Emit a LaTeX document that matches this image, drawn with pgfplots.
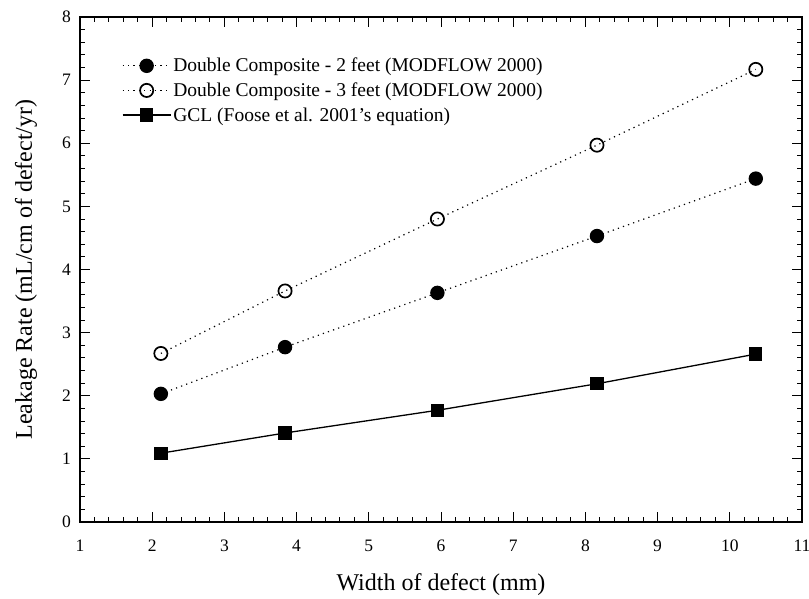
\documentclass[border=0pt]{standalone}
\usepackage{pgfplots}
\pgfplotsset{compat=1.18}
\usepackage{fontspec}
\setmainfont{Liberation Serif}
\begin{document}
\begin{tikzpicture}
\useasboundingbox (-80pt,-76pt) rectangle (729pt,522pt);
\begin{axis}[
  at={(0pt,0pt)}, anchor=south west,
  width=722pt, height=505pt, scale only axis,
  xmin=1, xmax=11, ymin=0, ymax=8,
  xtick={1,2,...,11}, ytick={0,1,...,8},
  minor tick num=4,
  tick align=inside,
  major tick length=10pt, minor tick length=5pt,
  every tick/.style={black, line width=1pt},
  axis line style={black, line width=1.4pt},
  /pgf/number format/assume math mode=true,
  xticklabel={\fontsize{17.5}{20}\selectfont\pgfmathprintnumber{\tick}},
  yticklabel={\fontsize{17.5}{20}\selectfont\pgfmathprintnumber{\tick}},
  tick label style={inner sep=0pt},
  xticklabel style={anchor=base, yshift=-29pt},
  yticklabel style={anchor=east, xshift=-9pt},
  xlabel={Width of defect (mm)},
  ylabel={Leakage Rate (mL/cm of defect/yr)},
  label style={font=\fontsize{24}{28}\selectfont},
  xlabel style={at={(axis description cs:0.5,-0.136)}, anchor=base},
  ylabel style={at={(axis description cs:-0.0665,0.5)}, anchor=base},
  legend style={at={(axis description cs:0.0582,0.9172)}, anchor=north west,
    draw=none, fill=none, inner sep=0pt, outer sep=0pt,
    font=\fontsize{19.5}{22}\selectfont,
    nodes={inner sep=0pt, text height=13pt, text depth=1pt},
    column sep=2pt, row sep=10.6pt},
  legend cell align=left,
  legend image code/.code={\draw[mark repeat=2,mark phase=2,#1] plot coordinates {(0pt,0pt) (24pt,0pt) (48pt,0pt)};},
]
\addplot[black, line width=1.2pt, dash pattern=on 1.2pt off 4.2pt,
  mark=*, mark size=6.6pt, mark options={solid, fill=black}]
  coordinates {(2.12,2.03) (3.84,2.77) (5.95,3.63) (8.16,4.53) (10.36,5.44)};
\addlegendentry{Double Composite - 2 feet (MODFLOW 2000)}
\addplot[black, line width=1.2pt, dash pattern=on 1.2pt off 4.2pt,
  mark=o, mark size=6.6pt, mark options={solid, fill=white, line width=1.7pt}]
  coordinates {(2.12,2.67) (3.84,3.66) (5.95,4.80) (8.16,5.97) (10.36,7.17)};
\addlegendentry{Double Composite - 3 feet (MODFLOW 2000)}
\addplot[black, line width=1.3pt,
  mark=square*, mark size=6pt, mark options={solid, fill=black}]
  coordinates {(2.12,1.09) (3.84,1.41) (5.95,1.77) (8.16,2.19) (10.36,2.66)};
\addlegendentry{GCL (Foose et al. 2001's equation)}
\end{axis}
\end{tikzpicture}
\end{document}
